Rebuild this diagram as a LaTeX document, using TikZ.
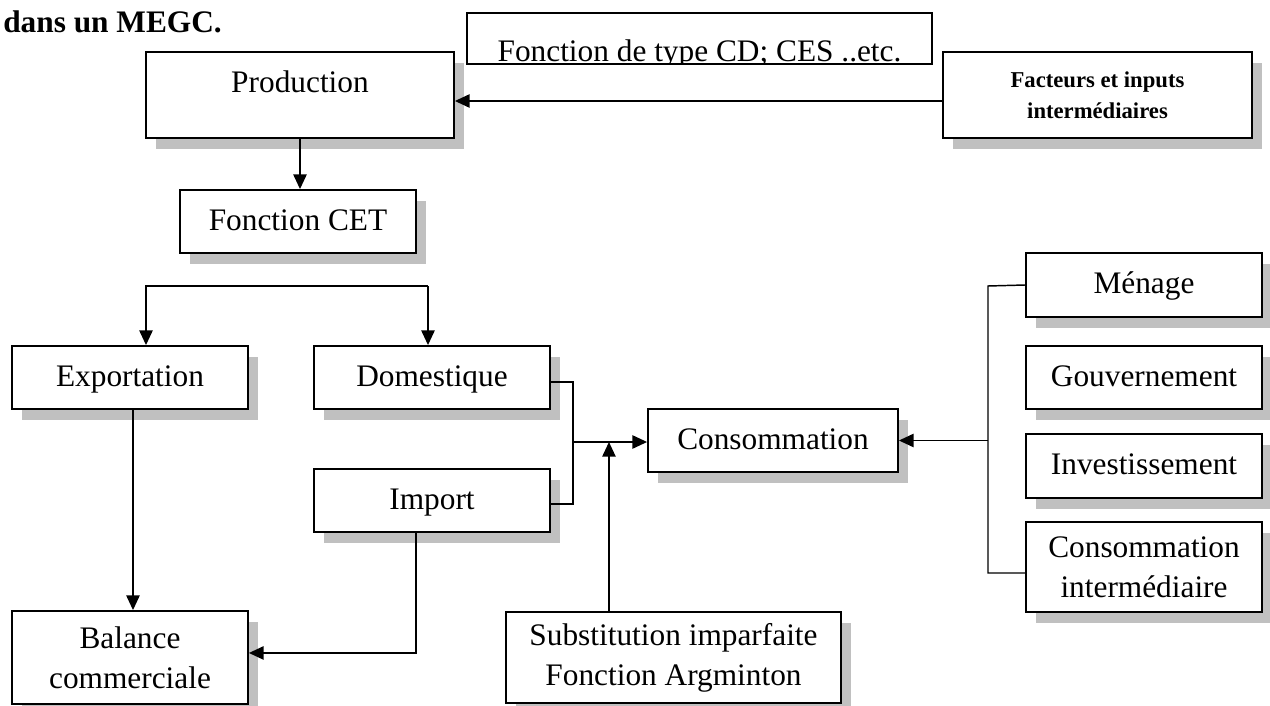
\documentclass[tikz,border=0pt]{standalone}
\usepackage{fontspec}
\setmainfont{Liberation Serif}
\usetikzlibrary{arrows.meta,shadows,positioning}
\definecolor{shadegray}{RGB}{192,192,192}
\tikzset{
  box/.style={draw, line width=1.4pt, fill=white, inner sep=0pt, align=center,
    font=\fontsize{23.5pt}{30pt}\selectfont,
    general shadow={fill=shadegray, shadow xshift=7.5pt, shadow yshift=-8pt}},
  onebox/.style={box, minimum width=177pt, minimum height=47.25pt,
    text height=17.6pt, text depth=4.8pt},
  arr/.style={-{Triangle[length=11pt,width=10pt]}, line width=1.1pt},
  link/.style={line width=1.1pt}
}

\begin{document}
\begin{tikzpicture}[x=0.75pt,y=0.75pt,yscale=-1,xscale=1]
\useasboundingbox (0,0) rectangle (1270,706);

% Text Node
\node[anchor=base west, inner sep=0pt, font=\bfseries\fontsize{23.5pt}{28pt}\selectfont] (titre) at (3,33) {dans un MEGC.};

%Shape: Rectangle (top row)
\node[box, minimum width=231pt, minimum height=64.5pt, text height=30.75pt, text depth=33.75pt] (prod) at (300,95) {Production};
\node[box, minimum width=231.75pt, minimum height=64.5pt, font=\bfseries\fontsize{17pt}{23pt}\selectfont] (fact) at (1097.5,95) {Facteurs et inputs\\intermédiaires};
\begin{scope}
\clip (460,5) rectangle (940,64.9);
\node[draw, line width=1.4pt, inner sep=0pt, minimum width=348.75pt, text height=36.75pt, text depth=1.5pt, font=\fontsize{23.5pt}{30pt}\selectfont] (cd) at (699.5,38.5) {Fonction de type CD; CES ..etc.};
\end{scope}
\node[onebox] (cet) at (298,221.5) {Fonction CET};

%Shape: Rectangle (left part)
\node[onebox] (exp) at (130,377.5) {Exportation};
\node[onebox] (dom) at (432,377.5) {Domestique};
\node[onebox] (imp) at (432,500.5) {Import};
\node[box, minimum width=177pt, minimum height=69.75pt] (bal) at (130,657.5) {Balance\\commerciale};
\node[onebox, minimum width=187.5pt] (cons) at (773,440.5) {Consommation};
\node[box, minimum width=251.25pt, minimum height=68.25pt] (subs) at (673.5,657.5) {Substitution imparfaite\\Fonction Argminton};

%Shape: Rectangle (right column)
\node[onebox, minimum height=48pt] (men) at (1144,285) {Ménage};
\node[onebox] (gouv) at (1144,377.5) {Gouvernement};
\node[onebox, minimum height=48pt] (inv) at (1144,466) {Investissement};
\node[box, minimum width=177pt, minimum height=67.5pt] (ci) at (1144,567) {Consommation\\intermédiaire};

\coordinate (tl) at (146,286);
\coordinate (tr) at (428,286);
\coordinate (mg) at (573,442);
\coordinate (rtop) at (988,286);
\coordinate (rbot) at (988,573);

%Straight Lines
\draw[arr] ([yshift=4.5pt]fact.west) -- ([yshift=4.5pt]fact.west -| prod.east);
\draw[arr] (prod.south) -- (prod.south |- cet.north);
\draw[arr] (tr) -- (tl) -- (tl |- exp.north);
\draw[arr] (tr) -- (tr |- dom.north);
\draw[arr] ([xshift=2.25pt]exp.south) -- ([xshift=2.25pt]exp.south |- bal.north);
\draw[arr] ([xshift=-12pt]imp.south) |- ([yshift=-3.4pt]bal.east);
\draw[link] ([yshift=3.4pt]dom.east) -| (mg);
\draw[link] ([yshift=2.6pt]imp.east) -| (mg);
\draw[arr] (mg) -- (mg -| cons.west);
\draw[arr] ([xshift=-48.4pt]subs.north) -- ([xshift=-48.4pt]subs.north |- mg);
\draw[link] (men.west) -- (rtop) -- (rbot) -- (rbot -| ci.west);
\draw[arr] (rtop |- cons.east) -- (cons.east);

\end{tikzpicture}
\end{document}
